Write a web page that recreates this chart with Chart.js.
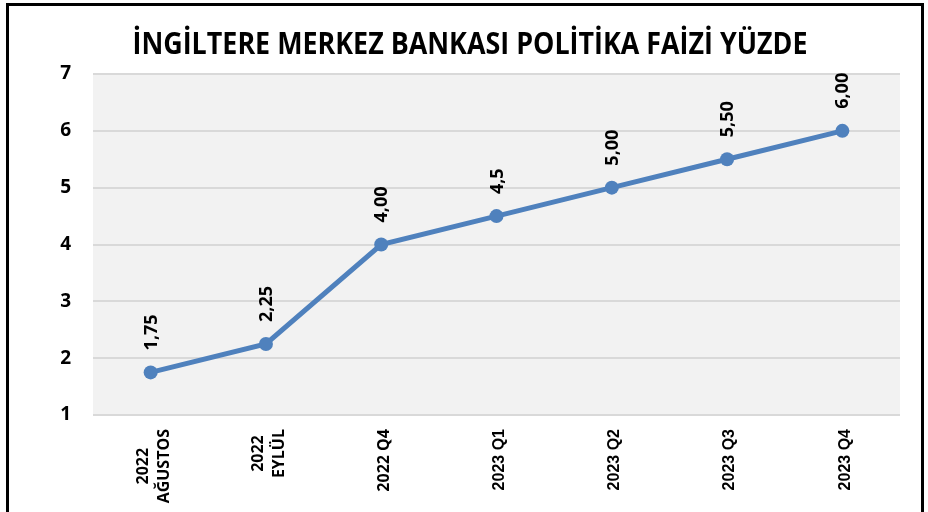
<!DOCTYPE html>
<html>
<head>
<meta charset="utf-8">
<script src="https://cdn.jsdelivr.net/npm/chart.js@4/dist/chart.umd.min.js"></script>
<style>
  html, body { margin: 0; padding: 0; background: #ffffff; }
  #wrap { position: relative; width: 928px; height: 512px; overflow: hidden; }
  #frame { position: absolute; left: 6px; top: 3px; width: 912px; height: 540px; border: 3px solid #000; pointer-events: none; }
</style>
</head>
<body>
<div id="wrap">
  <canvas id="rateChart" width="928" height="512"></canvas>
  <div id="frame"></div>
</div>
<script>
const TITLE = "İNGİLTERE MERKEZ BANKASI POLİTİKA FAİZİ YÜZDE";

const categories = [
  ["2022", "AĞUSTOS"],
  ["2022", "EYLÜL"],
  ["2022 Q4"],
  ["2023 Q1"],
  ["2023 Q2"],
  ["2023 Q3"],
  ["2023 Q4"]
];
const rateValues = [1.75, 2.25, 4.0, 4.5, 5.0, 5.5, 6.0];
const rateLabels = ["1,75", "2,25", "4,00", "4,5", "5,00", "5,50", "6,00"];
const yTicks = [1, 2, 3, 4, 5, 6, 7];

const LINE_COLOR = "#4f81bd";
const CALIBRI_LIKE = "'Open Sans', Lato, sans-serif";

const plotBackground = {
  id: "plotBackground",
  beforeDraw(chart) {
    const { ctx, chartArea } = chart;
    ctx.save();
    ctx.fillStyle = "#f2f2f2";
    ctx.fillRect(chartArea.left, chartArea.top, chartArea.right - chartArea.left, chartArea.bottom - chartArea.top);
    ctx.restore();
  }
};

// title squeezed sideways to get Calibri's narrow look
const titleDrawer = {
  id: "titleDrawer",
  afterDraw(chart) {
    const ctx = chart.ctx;
    ctx.save();
    ctx.font = "bold 30px " + CALIBRI_LIKE;
    ctx.fillStyle = "#000";
    ctx.textAlign = "center";
    ctx.textBaseline = "alphabetic";
    const w = ctx.measureText(TITLE).width;
    ctx.translate(470, 54);
    ctx.scale(675 / w, 1);
    ctx.fillText(TITLE, 0, 0);
    ctx.restore();
  }
};

const xLabelDrawer = {
  id: "xLabelDrawer",
  afterDraw(chart) {
    const ctx = chart.ctx;
    const xScale = chart.scales.x;
    ctx.save();
    ctx.fillStyle = "#000";
    categories.forEach((lines, i) => {
      const isQ23 = lines[0].startsWith("2023");
      ctx.font = isQ23 ? "bold 16px 'Liberation Sans', Arial, sans-serif" : "bold 16px " + CALIBRI_LIKE;
      const maxLen = Math.max(...lines.map((l) => ctx.measureText(l).width));
      const x = xScale.getPixelForValue(i) + 3;
      const y = 429 + maxLen / 2;
      ctx.save();
      ctx.translate(x, y);
      ctx.rotate(-Math.PI / 2);
      ctx.textAlign = "center";
      ctx.textBaseline = "middle";
      lines.forEach((line, j) => {
        ctx.fillText(line, 0, (j - (lines.length - 1) / 2) * 21);
      });
      ctx.restore();
    });
    ctx.restore();
  }
};

const valueLabels = {
  id: "valueLabels",
  afterDatasetsDraw(chart) {
    const ctx = chart.ctx;
    const meta = chart.getDatasetMeta(0);
    ctx.save();
    ctx.fillStyle = "#000";
    ctx.font = "bold 18px " + CALIBRI_LIKE;
    meta.data.forEach((pt, i) => {
      ctx.save();
      ctx.translate(pt.x + 1, pt.y - 22);
      ctx.rotate(-Math.PI / 2);
      ctx.textAlign = "left";
      ctx.textBaseline = "middle";
      ctx.fillText(rateLabels[i], 0, 0);
      ctx.restore();
    });
    ctx.restore();
  }
};

new Chart(document.getElementById("rateChart"), {
  type: "line",
  data: {
    labels: categories,
    datasets: [
      {
        data: rateValues,
        borderColor: LINE_COLOR,
        backgroundColor: LINE_COLOR,
        pointBackgroundColor: LINE_COLOR,
        pointBorderColor: LINE_COLOR,
        pointRadius: 7,
        pointBorderWidth: 0,
        borderWidth: 5,
        tension: 0
      }
    ]
  },
  options: {
    responsive: false,
    animation: false,
    devicePixelRatio: 1,
    layout: { padding: { top: 74, right: 28, left: 0, bottom: 0 } },
    plugins: {
      legend: { display: false },
      tooltip: { enabled: false },
      title: { display: false }
    },
    scales: {
      x: {
        offset: true,
        grid: { display: false },
        border: { display: false },
        ticks: { display: false },
        afterFit(scale) { scale.height = 97; }
      },
      y: {
        min: yTicks[0],
        max: yTicks[yTicks.length - 1],
        afterBuildTicks(scale) { scale.ticks = yTicks.map((v) => ({ value: v })); },
        grid: { color: "#d9d9d9", lineWidth: 2, drawTicks: false },
        border: { display: false },
        ticks: {
          color: "#000",
          padding: 22,
          font: { family: CALIBRI_LIKE, weight: "bold", size: 19 }
        },
        afterFit(scale) { scale.width = 93; }
      }
    }
  },
  plugins: [plotBackground, titleDrawer, xLabelDrawer, valueLabels]
});
</script>
</body>
</html>
